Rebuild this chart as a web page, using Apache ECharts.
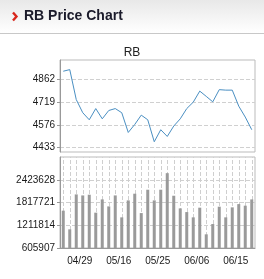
<!DOCTYPE html>
<html>
<head>
<meta charset="utf-8">
<script src="https://cdn.jsdelivr.net/npm/echarts@6/dist/echarts.min.js"></script>
<style>
  html, body { margin: 0; padding: 0; background: #fff; }
  #main { width: 264px; height: 279px; }
</style>
</head>
<body>
<div id="main"></div>
<script>
// trading days (only some are labelled on the axis)
var dates = ['04/24', '04/25', '04/28', '04/29', '05/06', '05/09', '05/10', '05/13', '05/15', '05/16',
             '05/17', '05/20', '05/21', '05/22', '05/23', '05/25', '05/27', '05/28', '05/30', '06/03',
             '06/05', '06/06', '06/07', '06/10', '06/12', '06/13', '06/14', '06/15', '06/18', '06/19'];
var labelDays = ['04/29', '05/16', '05/25', '06/06', '06/15'];

var prices = [4910, 4920, 4733, 4651, 4607, 4677, 4613, 4665, 4677, 4651,
              4528, 4578, 4636, 4607, 4470, 4545, 4503, 4568, 4613, 4677,
              4717, 4786, 4753, 4719, 4795, 4792, 4792, 4692, 4624, 4545];
var volumes = [1600000, 1103000, 2033000, 2006000, 2025000, 1547000, 1900000, 1714000, 2006000, 1422000,
               1874000, 2052000, 1536000, 2158000, 1874000, 2158000, 2599000, 1998000, 1661000, 1563000,
               1422000, 1680000, 970000, 1244000, 1706000, 1422000, 1688000, 1775000, 1733000, 1900000];

var priceTicks = [4433, 4576, 4719, 4862];
var volumeTicks = [605907, 1211814, 1817721, 2423628];

var font = "'Liberation Sans', Arial, sans-serif";
var plain = function (v) { return String(v); };

var myChart = echarts.init(document.getElementById('main'));
myChart.setOption({
  backgroundColor: '#fff',
  animation: false,
  title: {
    text: 'RB',
    left: 'center',
    top: 42,
    textStyle: { fontSize: 12, fontWeight: 'normal', color: '#222', fontFamily: font }
  },
  graphic: [
    {
      type: 'rect',
      shape: { x: 0, y: 0, width: 264, height: 33 },
      style: {
        fill: new echarts.graphic.LinearGradient(0, 0, 0, 1, [
          { offset: 0, color: '#e8e8e8' },
          { offset: 1, color: '#ffffff' }
        ])
      }
    },
    {
      type: 'line',
      shape: { x1: 0, y1: 33.5, x2: 264, y2: 33.5 },
      style: { stroke: '#c8c8c8', lineWidth: 1 }
    },
    {
      type: 'polyline',
      shape: { points: [[13, 12.5], [16.5, 16.5], [13, 20.5]] },
      style: { stroke: '#d8261c', lineWidth: 2.4, fill: null }
    },
    {
      type: 'text',
      left: 24,
      top: 9,
      style: { text: 'RB Price Chart', font: 'bold 14px ' + font, fill: '#1a1a2a' }
    }
  ],
  grid: [
    { left: 60, top: 60, width: 195, height: 92, show: true, borderColor: '#bbb', borderWidth: 1 },
    { left: 60, top: 157, width: 195, height: 91, show: true, borderColor: '#bbb', borderWidth: 1 }
  ],
  xAxis: [
    {
      type: 'category',
      gridIndex: 0,
      data: dates,
      boundaryGap: true,
      show: false
    },
    {
      type: 'category',
      gridIndex: 1,
      data: dates,
      boundaryGap: true,
      axisLine: { lineStyle: { color: '#999' } },
      axisTick: {
        show: true,
        inside: true,
        interval: 0,
        alignWithLabel: true,
        length: 91,
        lineStyle: { color: '#cfcfcf', type: 'dashed' }
      },
      axisLabel: {
        interval: function (index, value) { return labelDays.indexOf(value) >= 0; },
        color: '#1a1a1a',
        fontSize: 10,
        fontFamily: font,
        margin: 8,
        padding: [0, 6, 0, 0]
      },
      splitLine: { show: false }
    }
  ],
  yAxis: [
    {
      type: 'value',
      gridIndex: 0,
      min: 4406,
      max: 4980,
      axisLine: { show: true, lineStyle: { color: '#999' } },
      axisTick: { show: true, length: 3, customValues: priceTicks, lineStyle: { color: '#999' } },
      axisLabel: { customValues: priceTicks, formatter: plain, color: '#1a1a1a', fontSize: 10, fontFamily: font, margin: 5 },
      splitLine: { show: true, lineStyle: { color: '#d0d0d0', type: 'dashed' } }
    },
    {
      type: 'value',
      gridIndex: 1,
      min: 605907,
      max: 3029535,
      axisLine: { show: true, lineStyle: { color: '#999' } },
      axisTick: { show: true, length: 3, customValues: volumeTicks, lineStyle: { color: '#999' } },
      axisLabel: { customValues: volumeTicks, formatter: plain, color: '#1a1a1a', fontSize: 10, fontFamily: font, margin: 5 },
      splitLine: { show: true, lineStyle: { color: '#d0d0d0', type: 'dashed' } }
    }
  ],
  series: [
    {
      name: 'price',
      type: 'line',
      xAxisIndex: 0,
      yAxisIndex: 0,
      data: prices,
      showSymbol: false,
      lineStyle: { color: '#4a8fc2', width: 1 },
      itemStyle: { color: '#4a8fc2' }
    },
    {
      name: 'volume',
      type: 'bar',
      xAxisIndex: 1,
      yAxisIndex: 1,
      data: volumes,
      barWidth: 3,
      itemStyle: { color: '#9a9a9a' }
    }
  ]
});
</script>
</body>
</html>
